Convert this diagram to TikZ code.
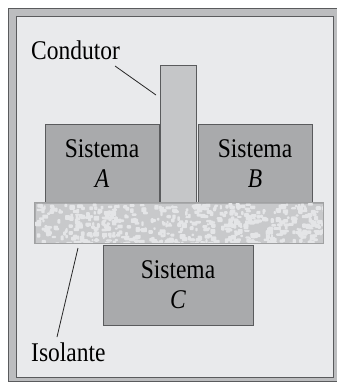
\documentclass[tikz,border=0pt]{standalone}
\usepackage{fontspec}
\setmainfont[FakeStretch=0.87]{Liberation Serif}
\definecolor{fundo}{HTML}{E9EAEC}
\definecolor{moldura}{HTML}{BCBDBF}
\definecolor{contorno}{HTML}{5A5B5D}
\definecolor{caixa}{HTML}{A9AAAC}
\definecolor{barra}{HTML}{C5C6C8}
\definecolor{isol}{HTML}{C8C9CB}
\definecolor{grao}{HTML}{E4E5E7}
\begin{document}
\begin{tikzpicture}[x=1pt,y=-1pt]

\def\larg{114}
\def\alt{79}

\tikzset{
        every node/.style={font=\fontsize{27}{30}\selectfont},
        sistema/.style={draw=contorno, line width=.8pt, fill=caixa, inner sep=0pt,
                align=center, minimum width=\larg, minimum height=\alt},
        condbox/.style={draw=contorno, line width=.8pt, fill=barra, inner sep=0pt,
                minimum width=36, minimum height=138},
        rotulo/.style={inner sep=0pt, anchor=base west},
        guia/.style={draw=black!85, line width=.8pt}
}

\useasboundingbox (0,0) rectangle (337,383);

% moldura
\fill[moldura] (8,8) rectangle (337,381);
\draw[contorno, line width=.8pt] (337,8) -- (8,8) -- (8,381) -- (337,381);
\draw[contorno, line width=.8pt, fill=fundo] (16,16) rectangle (333,377);

% condutor
\node[condbox] (cond) at (178,134) {};

\node[sistema] (A) at (102,163.5) {Sistema\\\textit{A}};
\node[sistema] (B) at (255,163.5) {Sistema\\\textit{B}};
\node[sistema, minimum width=150, minimum height=80] (C) at (178,285) {Sistema\\\textit{C}};

% isolante com textura
\node[fill=isol, draw=isol!85!black, line width=.6pt, inner sep=0pt,
      minimum width=288, minimum height=40] (isol) at (179,223) {};
\begin{scope}
  \clip (isol.south west) rectangle (isol.north east);
  \pgfmathsetseed{17}
  \foreach \i in {1,...,560} {
    \pgfmathsetmacro\px{35+288*rnd}
    \pgfmathsetmacro\py{203+40*rnd}
    \pgfmathsetmacro\pw{2+4*rnd}
    \pgfmathsetmacro\ph{2+3*rnd}
    \fill[grao, rounded corners=.8pt] (\px,\py) rectangle ++(\pw,\ph);
  }
\end{scope}
\draw[isol!80!black, line width=.6pt] (isol.south west) rectangle (isol.north east);

% rotulos
\node[rotulo] (lcond) at (31,59) {Condutor};
\node[rotulo] (lisol) at (31,361) {Isolante};

\coordinate (cond1) at (115,66);
\coordinate (cond2) at (156,95);
\coordinate (isol1) at (78,248);
\coordinate (isol2) at (57,337);

\draw[guia] (cond1) -- (cond2);
\draw[guia] (isol1) -- (isol2);

\end{tikzpicture}
\end{document}
